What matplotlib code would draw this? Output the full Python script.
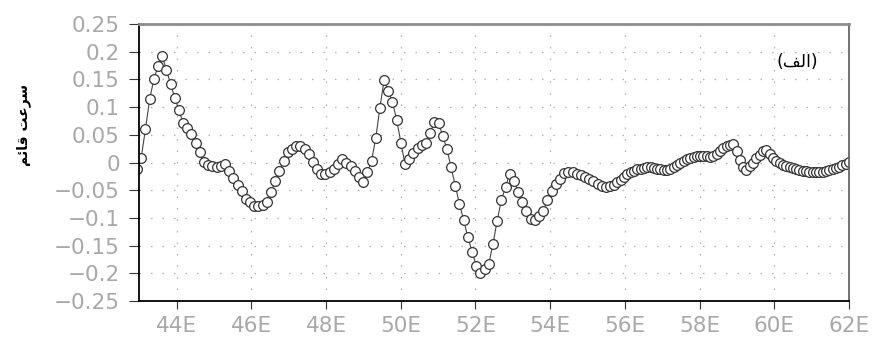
import numpy as np
import matplotlib
matplotlib.use("Agg")
import matplotlib.pyplot as plt

# sampling of the section: coarser west of 55.8E, denser east of it
lon_west_start, lon_west_step = 42.94, 0.1121
lon_east_start, lon_east_step = 55.80, 0.0886

# vertical velocity
w_west = [-0.012, 0.009, 0.060, 0.114, 0.150, 0.174, 0.193, 0.167, 0.142, 0.117,
          0.094, 0.072, 0.062, 0.051, 0.036, 0.019, 0.001, -0.004, -0.007, -0.008,
          -0.006, -0.003, -0.016, -0.028, -0.040, -0.052, -0.065, -0.072, -0.078, -0.079,
          -0.076, -0.071, -0.053, -0.034, -0.016, 0.003, 0.019, 0.025, 0.029, 0.029,
          0.024, 0.015, 0.001, -0.012, -0.021, -0.020, -0.017, -0.011, -0.003, 0.006,
          0.000, -0.006, -0.015, -0.027, -0.036, -0.018, 0.003, 0.044, 0.099, 0.149,
          0.129, 0.109, 0.077, 0.036, -0.003, 0.007, 0.018, 0.027, 0.032, 0.035,
          0.054, 0.073, 0.072, 0.048, 0.024, -0.009, -0.042, -0.075, -0.104, -0.135,
          -0.161, -0.186, -0.200, -0.192, -0.183, -0.147, -0.105, -0.068, -0.044, -0.020,
          -0.033, -0.053, -0.072, -0.087, -0.102, -0.103, -0.096, -0.087, -0.068, -0.051,
          -0.038, -0.029, -0.019, -0.018, -0.018, -0.020, -0.022, -0.026, -0.030, -0.034,
          -0.038, -0.042, -0.045, -0.042, -0.040]
w_east = [-0.036, -0.031, -0.026, -0.021, -0.018, -0.015, -0.012, -0.011, -0.010, -0.009,
          -0.009, -0.010, -0.011, -0.012, -0.013, -0.013, -0.011, -0.008, -0.004, -0.001,
          0.003, 0.006, 0.008, 0.010, 0.011, 0.012, 0.012, 0.011, 0.010, 0.012,
          0.016, 0.021, 0.026, 0.030, 0.032, 0.033, 0.021, 0.004, -0.009, -0.013,
          -0.007, 0.000, 0.008, 0.014, 0.020, 0.023, 0.015, 0.009, 0.003, -0.001,
          -0.004, -0.006, -0.008, -0.010, -0.012, -0.013, -0.015, -0.016, -0.017, -0.017,
          -0.018, -0.018, -0.017, -0.016, -0.014, -0.012, -0.010, -0.008, -0.005, -0.002,
          0.001]

xticks = [44, 46, 48, 50, 52, 54, 56, 58, 60, 62]
xtick_labels = ["%dE" % v for v in xticks]
yticks = [0.25, 0.2, 0.15, 0.1, 0.05, 0, -0.05, -0.1, -0.15, -0.2, -0.25]
ytick_labels = ["%g" % v if v >= 0 else "\u2212%g" % -v for v in yticks]

# Persian strings written in shaped presentation forms, visual order
ylabel_text = "\ufee2\ufe8b\ufe8e\ufed7 \ufe96\ufecb\ufeae\ufeb3"   # سرعت قائم
panel_text = "(\ufed2\ufedf\ufe8d)"                                   # (الف)

lon = np.concatenate([lon_west_start + lon_west_step * np.arange(len(w_west)),
                      lon_east_start + lon_east_step * np.arange(len(w_east))])
w = np.array(w_west + w_east)

fig = plt.figure(figsize=(8.75, 3.42), dpi=100)
ax = fig.add_axes([0.1592, 0.1199, 0.8111, 0.8099])

ax.plot(lon, w, color="#444444", lw=0.8, marker="o", ms=7,
        mfc="white", mec="#333333", mew=0.9)

ax.set_xlim(43, 62)
ax.set_ylim(-0.25, 0.25)
ax.set_xticks(xticks)
ax.set_xticklabels(xtick_labels)
ax.set_yticks(yticks)
ax.set_yticklabels(ytick_labels)

ax.grid(True, color="#b0b0b0", lw=0.9, linestyle=(0, (1.2, 8)))
ax.tick_params(axis="both", direction="out", color="#333333", width=0.8,
               labelcolor="#a8a8a8", labelsize=15.5)
ax.tick_params(axis="y", length=7, pad=7)
ax.tick_params(axis="x", length=6, pad=5)

ax.spines["left"].set_color("black")
ax.spines["bottom"].set_color("black")
ax.spines["left"].set_linewidth(1.3)
ax.spines["bottom"].set_linewidth(1.3)
ax.spines["top"].set_color("#8c8c8c")
ax.spines["top"].set_linewidth(2.0)
ax.spines["right"].set_color("#666666")
ax.spines["right"].set_linewidth(1.3)

ax.text(60.61, 0.182, panel_text, fontsize=12.5, ha="center", va="center",
        color="black", family="DejaVu Sans")
fig.text(24 / 875, 1 - 125 / 342, ylabel_text, rotation=90, fontsize=10,
         fontweight="bold", ha="center", va="center", family="DejaVu Sans")

fig.savefig("out.png", dpi=100, facecolor="white")
